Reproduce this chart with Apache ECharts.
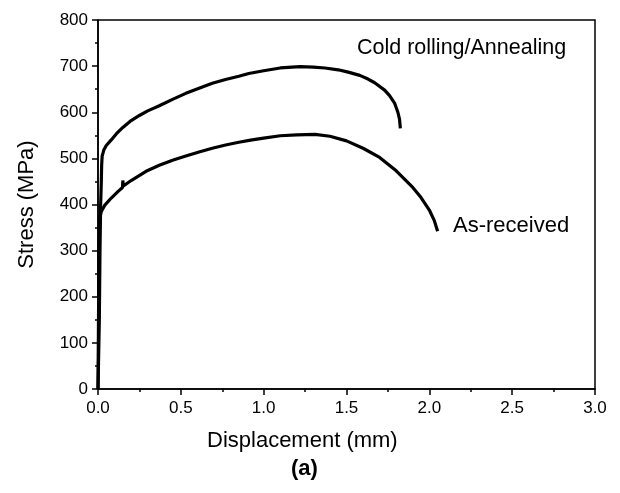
<!DOCTYPE html>
<html>
<head>
<meta charset="utf-8">
<script src="https://cdn.jsdelivr.net/npm/echarts@6/dist/echarts.min.js"></script>
<style>html,body{margin:0;padding:0;background:#fff}#c{width:620px;height:493px}</style>
</head>
<body>
<div id="c"></div>
<script>
// Cold rolling / Annealing curve
var crDisp   = [0.0, 0.008, 0.012, 0.016, 0.02, 0.022, 0.025, 0.035, 0.05, 0.08, 0.11, 0.15, 0.2, 0.25, 0.3, 0.37, 0.45, 0.53, 0.61, 0.69, 0.77, 0.85, 0.91, 1.0, 1.1, 1.22, 1.3, 1.37, 1.45, 1.51, 1.58, 1.63, 1.67, 1.73, 1.76, 1.79, 1.81, 1.82, 1.825];
var crStress = [0, 150, 300, 400, 450, 485, 505, 518, 528, 540, 553, 567, 582, 593, 603, 614, 628, 641, 652, 663, 671, 678, 684, 690, 696, 699, 698, 696, 692, 687, 680, 672, 664, 648, 636, 620, 600, 585, 565];
// As-received curve
var arDisp   = [0.0, 0.003, 0.006, 0.01, 0.02, 0.04, 0.08, 0.12, 0.148, 0.15, 0.153, 0.2, 0.29, 0.37, 0.45, 0.53, 0.61, 0.69, 0.77, 0.85, 0.93, 1.0, 1.1, 1.2, 1.31, 1.4, 1.5, 1.6, 1.7, 1.8, 1.9, 1.95, 2.0, 2.03, 2.05];
var arStress = [0, 150, 300, 370, 385, 398, 414, 428, 437, 452, 440, 452, 472, 485, 496, 505, 514, 522, 529, 535, 540, 544, 549, 551, 552, 548, 538, 522, 502, 473, 437, 415, 388, 365, 342];
// Axis settings
var xTicks = {min: 0, max: 3, step: 0.5};
var yTicks = {min: 0, max: 800, step: 100};
var xTitle = 'Displacement (mm)';
var yTitle = 'Stress (MPa)';
var crLabel = 'Cold rolling/Annealing';
var arLabel = 'As-received';
var panel = '(a)';

function pairs(xs, ys) { return xs.map(function (x, i) { return [x, ys[i]]; }); }

var FONT = "'Liberation Sans', Arial, Helvetica, sans-serif";
var chart = echarts.init(document.getElementById('c'), null, {renderer: 'canvas'});
var axisCommon = {
  axisLine: {show: true, lineStyle: {color: '#000', width: 1.5}},
  axisTick: {show: true, inside: false, length: 6, lineStyle: {color: '#000', width: 1.5}},
  minorTick: {show: true, splitNumber: 2, length: 3, lineStyle: {color: '#000', width: 1.5}},
  splitLine: {show: false},
  axisLabel: {color: '#000', fontSize: 17, fontFamily: FONT},
  nameTextStyle: {color: '#000', fontSize: 22, fontFamily: FONT}
};
chart.setOption({
  animation: false,
  backgroundColor: '#fff',
  grid: {left: 98, right: 25, top: 20, bottom: 104, show: true, borderColor: '#000', borderWidth: 1.5},
  xAxis: Object.assign({}, axisCommon, {
    type: 'value', min: xTicks.min, max: xTicks.max, interval: xTicks.step,
    axisLabel: Object.assign({}, axisCommon.axisLabel, {margin: 11, formatter: function (v) { return v.toFixed(1); }})
  }),
  yAxis: Object.assign({}, axisCommon, {
    type: 'value', min: yTicks.min, max: yTicks.max, interval: yTicks.step,
    name: yTitle, nameLocation: 'middle', nameGap: 60,
    axisLabel: Object.assign({}, axisCommon.axisLabel, {margin: 10})
  }),
  series: [
    {type: 'line', data: pairs(crDisp, crStress), showSymbol: false, lineStyle: {color: '#000', width: 3.2}},
    {type: 'line', data: pairs(arDisp, arStress), showSymbol: false, lineStyle: {color: '#000', width: 3.2}}
  ],
  graphic: [
    {type: 'text', left: 357, top: 37, style: {text: crLabel, fill: '#000', fontSize: 21.5, fontFamily: FONT}},
    {type: 'text', left: 453, top: 215, style: {text: arLabel, fill: '#000', fontSize: 22, fontFamily: FONT}},
    {type: 'text', left: 207, top: 430, style: {text: xTitle, fill: '#000', fontSize: 22, fontFamily: FONT}},
    {type: 'text', left: 291, top: 458, style: {text: panel, fill: '#000', fontSize: 22, fontWeight: 'bold', fontFamily: FONT}}
  ]
});
</script>
</body>
</html>
